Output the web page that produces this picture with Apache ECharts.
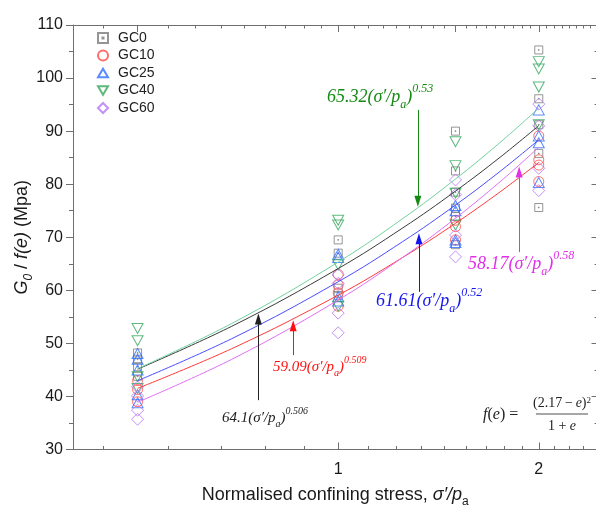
<!DOCTYPE html>
<html><head><meta charset="utf-8">
<script src="https://cdn.jsdelivr.net/npm/echarts@6/dist/echarts.min.js"></script>
<style>html,body{margin:0;padding:0;background:#fff}#c{width:596px;height:507px}</style>
</head><body><div id="c"></div>
<script>
// ---------- data ----------
const stress = [0.5, 1, 1.5, 2];
const seriesNames = ['GC0', 'GC10', 'GC25', 'GC40', 'GC60'];
// measured G0/f(e) at each stress level (one inner list per stress)
const gc0  = [[48.2, 47.0, 45.6, 43.8], [69.5, 67.0, 60.4, 59.0], [90.0, 82.5, 78.5, 75.5, 73.9, 68.6], [105.3, 96.1, 91.2, 85.8, 75.6]];
const gc10 = [[43.0, 41.3, 39.0], [63.0, 61.0, 59.5, 57.0], [73.2, 72.0, 69.5], [89.1, 84.6, 83.6, 80.5]];
const gc25 = [[48.1, 47.0, 45.0, 40.3, 38.8], [66.8, 66.2, 58.8, 58.0], [76.0, 75.0, 69.5, 69.0], [94.0, 89.1, 87.8, 80.3]];
const gc40 = [[52.8, 50.5, 43.7, 41.5], [73.2, 72.3, 64.8, 57.0], [88.0, 83.5, 78.3, 72.3], [103.1, 101.7, 98.3, 91.2]];
const gc60 = [[41.8, 40.1, 37.4, 35.7], [62.9, 61.3, 55.7, 52.0], [80.8, 78.0, 70.4, 66.3], [95.1, 91.0, 83.0, 78.8]];
// fitted curves read at these stresses
const fitX   = [0.5, 0.7, 1, 1.25, 1.5, 1.75, 2];
const fitGC0  = [45.14, 53.52, 64.10, 71.76, 78.70, 85.08, 91.03];
const fitGC10 = [41.52, 49.28, 59.09, 66.20, 72.63, 78.56, 84.09];
const fitGC25 = [42.96, 51.18, 61.61, 69.19, 76.07, 82.42, 88.35];
const fitGC40 = [45.24, 54.07, 65.32, 73.52, 80.98, 87.87, 94.32];
const fitGC60 = [38.91, 47.30, 58.17, 66.21, 73.59, 80.47, 86.95];
const fitCoef = ['64.1', '59.09', '61.61', '65.32', '58.17'];
const fitExp  = ['0.506', '0.509', '0.52', '0.53', '0.58'];
// axis ticks
const xRange = [0.4, 2.45];
const yRange = [30, 110];
const xTickBottom = [1, 2];
const xMinorBottom = [0.4444, 0.5556, 0.6667, 0.7778, 0.8889, 1.1111, 1.2222, 1.3333, 1.4444, 1.5556, 1.6667, 1.7778, 1.8889, 2.1111, 2.2222, 2.3333];
const xTickTop = [0.5, 1, 1.5, 2];
const xMinorTop = [0.4444, 0.5556, 0.6111, 0.6667, 0.7222, 0.7778, 0.8333, 0.8889, 0.9444, 1.0556, 1.1111, 1.1667, 1.2222, 1.2778, 1.3333, 1.3889, 1.4444, 1.5556, 1.6111, 1.6667, 1.7222, 1.7778, 1.8333, 1.8889, 1.9444, 2.0556, 2.1111, 2.1667, 2.2222, 2.2778, 2.3333, 2.3889];
// annotation arrows (x, tail y, head y) in data units
const arrowX    = [0.759, 0.856, 1.322, 1.317, 1.869];
const arrowFrom = [39.3, 47.8, 59.7, 94.0, 67.2];
const arrowTo   = [54.6, 53.3, 69.7, 76.8, 82.3];

// ---------- styling ----------
const L = v => Math.log10(v);
const sans = '"Liberation Sans", Arial, sans-serif';
const serif = '"Liberation Serif", "Times New Roman", serif';
const axisGray = '#6f6f6f';
const markColors = ['#7a7a7a', '#ff4a4a', '#2f6dff', '#34a85c', '#b574f2'];
const lineColors = ['#3a3a3a', '#ff3a3a', '#4a4cff', '#72d2a0', '#e070f5'];
const annColors  = ['#222222', '#ff1010', '#1515ee', '#148a14', '#e030e8'];
const symbols = [
  'path://M0,0H10V10H0Z M4.5,4.5H5.5V5.5H4.5Z',
  'circle',
  'path://M5,0L10,8.66L0,8.66Z',
  'path://M0,0L10,0L5,8.66Z',
  'diamond'
];
const symSize = [8, 10, [11, 10], [11, 10], 12];
const allData = [gc0, gc10, gc25, gc40, gc60];
const allFit  = [fitGC0, fitGC10, fitGC25, fitGC40, fitGC60];

const scatterSeries = seriesNames.map((nm, i) => ({
  name: nm, type: 'scatter', symbol: symbols[i], symbolSize: symSize[i],
  itemStyle: { color: 'rgba(255,255,255,0)', borderColor: markColors[i], borderWidth: 1 },
  data: allData[i].flatMap((vals, k) => vals.map(v => [L(stress[k]), v])),
  z: 3
}));
const lineSeries = seriesNames.map((nm, i) => ({
  type: 'line', smooth: 0.4, showSymbol: false, silent: true,
  lineStyle: { color: lineColors[i], width: 1 },
  data: fitX.map((x, k) => [L(x), allFit[i][k]]),
  z: 4,
  markLine: {
    silent: true, symbol: ['none', 'triangle'], symbolSize: [0, 9],
    label: { show: false },
    lineStyle: { color: annColors[i], width: 1, type: 'solid' },
    emphasis: { disabled: true },
    data: [[{ coord: [L(arrowX[i]), arrowFrom[i]] }, { coord: [L(arrowX[i]), arrowTo[i]], symbolSize: [7, 11] }]]
  }
}));

function ann(i, x, y, size) {
  const s = Math.round(size * 0.66);
  const base = { fontFamily: serif, fontStyle: 'italic', fill: annColors[i] };
  return {
    type: 'text', x: x, y: y,
    style: {
      text: `{n|${fitCoef[i]}(σ′/p}{s|a}{n|)}{p|${fitExp[i]}}`,
      verticalAlign: 'middle', fill: annColors[i],
      rich: {
        n: Object.assign({ fontSize: size, lineHeight: Math.round(size * 1.55), verticalAlign: 'middle' }, base),
        s: Object.assign({ fontSize: s, lineHeight: s, verticalAlign: 'bottom' }, base),
        p: Object.assign({ fontSize: s, lineHeight: s, verticalAlign: 'top' }, base)
      }
    }
  };
}

const eqBase = { fontFamily: serif, fontSize: 16, fill: '#222' };
const eqRich = {
  n: Object.assign({}, eqBase),
  i: Object.assign({ fontStyle: 'italic' }, eqBase),
  m: Object.assign({}, eqBase, { fontSize: 14 }),
  mi: Object.assign({ fontStyle: 'italic' }, eqBase, { fontSize: 14 }),
  p: Object.assign({}, eqBase, { fontSize: 9, lineHeight: 9, verticalAlign: 'top' })
};

const nameRich = {
  t: { fontFamily: sans, fontSize: 18, color: '#1a1a1a', lineHeight: 26, verticalAlign: 'middle' },
  i: { fontFamily: sans, fontSize: 18, fontStyle: 'italic', color: '#1a1a1a', lineHeight: 26, verticalAlign: 'middle' },
  s: { fontFamily: sans, fontSize: 12, color: '#1a1a1a', lineHeight: 12, verticalAlign: 'bottom' },
  si: { fontFamily: sans, fontSize: 12, fontStyle: 'italic', color: '#1a1a1a', lineHeight: 12, verticalAlign: 'bottom' }
};

const chart = echarts.init(document.getElementById('c'));
chart.setOption({
  animation: false,
  backgroundColor: '#fff',
  grid: { left: 73, right: -1.5, top: 25, bottom: 57.5, containLabel: false, outerBoundsMode: 'none' },
  legend: {
    orient: 'vertical', left: 92, top: 26, itemWidth: 10, itemHeight: 10, itemGap: 3.5,
    textStyle: { fontFamily: sans, fontSize: 14, color: '#222', lineHeight: 10, padding: [0, 0, 0, 5] },
    data: seriesNames
  },
  xAxis: [
    {
      type: 'value', position: 'bottom', min: L(xRange[0]), max: L(xRange[1]),
      axisLine: { show: true, onZero: false, lineStyle: { color: axisGray, width: 1 } },
      axisTick: { show: true, inside: true, length: 7, customValues: xTickBottom.map(L), lineStyle: { color: axisGray } },
      axisLabel: { show: true, customValues: xTickBottom.map(L), margin: 12, fontFamily: sans, fontSize: 16, color: '#1a1a1a',
        formatter: v => String(Math.round(Math.pow(10, v) * 100) / 100) },
      splitLine: { show: false },
      name: '{t|Normalised confining stress, }{i|σ′/p}{s|a}',
      nameLocation: 'middle', nameGap: 32.5, nameMoveOverlap: false,
      nameTextStyle: { rich: nameRich }
    },
    {
      type: 'value', position: 'bottom', min: L(xRange[0]), max: L(xRange[1]),
      axisLine: { show: false, onZero: false },
      axisTick: { show: true, inside: true, length: 3.5, customValues: xMinorBottom.map(L), lineStyle: { color: axisGray } },
      axisLabel: { show: false }, splitLine: { show: false }
    },
    {
      type: 'value', position: 'top', min: L(xRange[0]), max: L(xRange[1]),
      axisLine: { show: true, onZero: false, lineStyle: { color: axisGray, width: 1 } },
      axisTick: { show: true, inside: true, length: 7, customValues: xTickTop.map(L), lineStyle: { color: axisGray } },
      axisLabel: { show: false }, splitLine: { show: false }
    },
    {
      type: 'value', position: 'top', min: L(xRange[0]), max: L(xRange[1]),
      axisLine: { show: false, onZero: false },
      axisTick: { show: true, inside: true, length: 3.5, customValues: xMinorTop.map(L), lineStyle: { color: axisGray } },
      axisLabel: { show: false }, splitLine: { show: false }
    }
  ],
  yAxis: [
    {
      type: 'value', position: 'left', min: yRange[0], max: yRange[1], interval: 10,
      axisLine: { show: true, onZero: false, lineStyle: { color: axisGray, width: 1 } },
      axisTick: { show: true, inside: false, length: 7, lineStyle: { color: axisGray } },
      minorTick: { show: true, splitNumber: 2, length: 4, lineStyle: { color: axisGray } },
      axisLabel: { margin: 10, fontFamily: sans, fontSize: 16, color: '#1a1a1a' },
      splitLine: { show: false }, minorSplitLine: { show: false },
      name: '{i|G}{si|0}{t| / }{i|f(e)}{t| (Mpa)}',
      nameLocation: 'middle', nameGap: 38, nameRotate: 90, nameMoveOverlap: false,
      nameTextStyle: { rich: nameRich }
    },
    {
      type: 'value', position: 'right', min: yRange[0], max: yRange[1], interval: 10,
      axisLine: { show: true, onZero: false, lineStyle: { color: axisGray, width: 1 } },
      axisTick: { show: true, inside: true, length: 6, lineStyle: { color: axisGray } },
      minorTick: { show: true, splitNumber: 2, length: 3, lineStyle: { color: axisGray } },
      axisLabel: { show: false }, splitLine: { show: false }
    }
  ],
  series: scatterSeries.concat(lineSeries),
  graphic: [
    ann(3, 327, 97, 18),
    ann(2, 376, 301, 18),
    ann(4, 468, 264, 18),
    ann(1, 273, 367, 15),
    ann(0, 222, 418, 15),
    { type: 'text', x: 483, y: 415, style: { text: '{i|f}{n|(}{i|e}{n|) =}', verticalAlign: 'middle', rich: eqRich } },
    { type: 'text', x: 562, y: 403, style: { text: '{m|(2.17\u2009−\u2009}{mi|e}{m|)}{p|2}', align: 'center', verticalAlign: 'middle', rich: eqRich } },
    { type: 'line', shape: { x1: 536, y1: 414, x2: 588, y2: 414 }, style: { stroke: '#222', lineWidth: 0.8 } },
    { type: 'text', x: 562, y: 426, style: { text: '{m|1 + }{mi|e}', align: 'center', verticalAlign: 'middle', rich: eqRich } }
  ]
});
</script>
</body></html>
